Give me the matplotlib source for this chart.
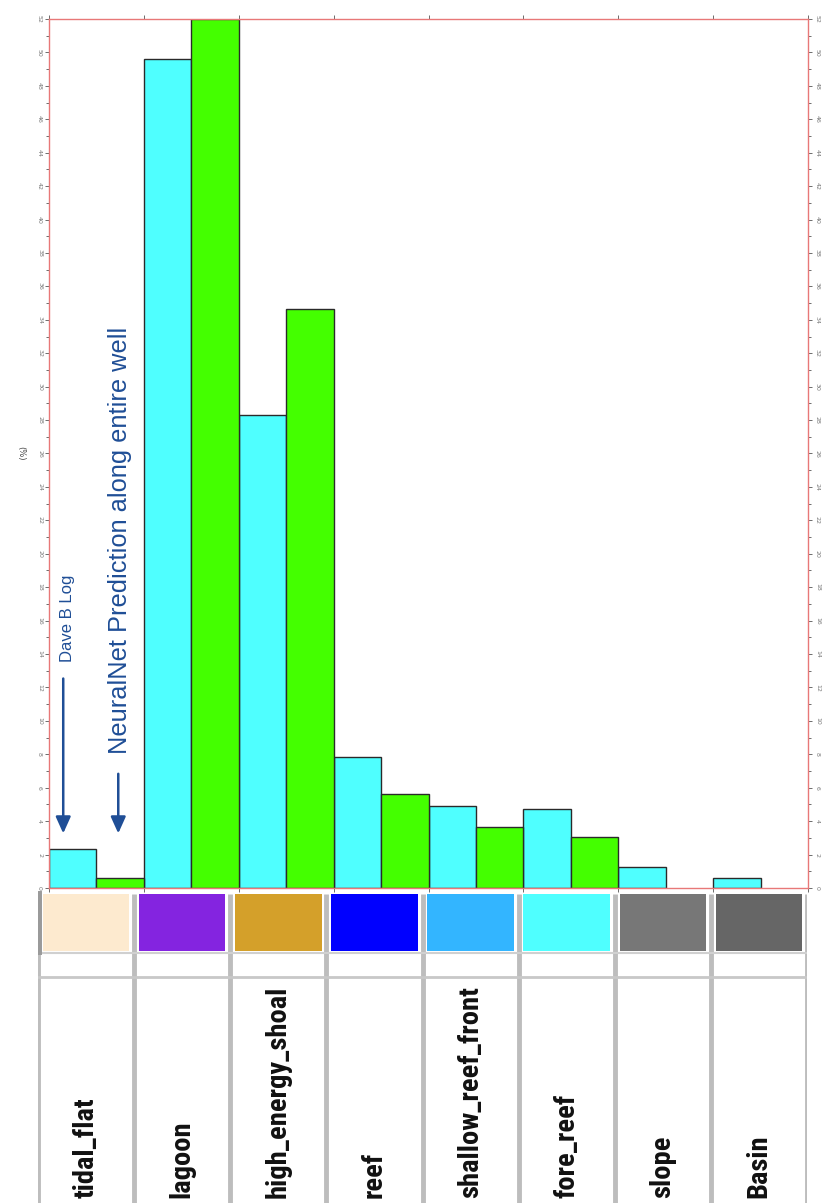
import matplotlib
matplotlib.use("Agg")
import matplotlib.pyplot as plt
from matplotlib.patches import Rectangle
from matplotlib.ticker import MultipleLocator
import numpy as np

categories = ["tidal_flat", "lagoon", "high_energy_shoal", "reef",
              "shallow_reef_front", "fore_reef", "slope", "Basin"]
dave_log = [2.35, 49.6, 28.3, 7.85, 4.9, 4.7, 1.25, 0.6]
neuralnet = [0.6, 52.0, 34.65, 5.65, 3.65, 3.05, 0.0, 0.0]
facies_colors = ["#FDEACF", "#8424E0", "#D4A02A", "#0000FF",
                 "#33B5FF", "#4FFFFF", "#777777", "#666666"]
y_ticks = list(range(0, 54, 2))

W, H = 825, 1203
fig = plt.figure(figsize=(W / 100, H / 100), dpi=100)
fig.patch.set_facecolor("white")

# ---- main bar axes
ax = fig.add_axes([49 / W, 1 - 888 / H, (808 - 49) / W, (888 - 19) / H])
x = np.arange(len(categories))
ax.bar(x - 0.25, dave_log, width=0.5, color="#4FFFFF", edgecolor="#2a2a2a", linewidth=1.0)
nn_x = [xi + 0.25 for xi, v in zip(x, neuralnet) if v > 0]
nn_v = [v for v in neuralnet if v > 0]
ax.bar(nn_x, nn_v, width=0.5, color="#44FF00", edgecolor="#2a2a2a", linewidth=1.0)
ax.set_xlim(-0.5, len(categories) - 0.5)
ax.set_ylim(0, 52)
for s in ax.spines.values():
    s.set_color("#E87878")
    s.set_linewidth(1.0)
ax.set_yticks(y_ticks)
ax.yaxis.set_minor_locator(MultipleLocator(1))
ax.set_yticklabels([str(t) for t in y_ticks], rotation=-90, fontsize=4.5,
                   color="#777777", va="center")
ax.tick_params(axis="y", which="both", direction="out", length=3, width=0.6,
               color="#555555", right=True, labelright=True, pad=2)
ax.tick_params(axis="y", which="minor", length=2)
ax.set_xticks(np.arange(-0.5, len(categories), 1.0))
ax.set_xticklabels([])
ax.tick_params(axis="x", direction="out", length=3, width=0.6, color="#555555",
               top=True, bottom=True, labelbottom=False)
ax.set_ylabel("(%)", rotation=-90, fontsize=6, color="#444444")
ax.yaxis.set_label_coords(-0.043, 0.5)

blue = "#1F4E96"
ax.text(-0.30, 13.5, "Dave B Log", rotation=90, ha="center", va="bottom",
        fontsize=12, color=blue, family="Liberation Sans")
ax.text(0.25, 8.0, "NeuralNet Prediction along entire well", rotation=90,
        ha="center", va="bottom", fontsize=18.3, color=blue, family="Liberation Sans")
ax.annotate("", xy=(-0.35, 3.1), xytext=(-0.35, 12.7),
            arrowprops=dict(arrowstyle="-|>,head_length=1.0,head_width=0.45",
                            color=blue, lw=1.8))
ax.annotate("", xy=(0.23, 3.1), xytext=(0.23, 7.0),
            arrowprops=dict(arrowstyle="-|>,head_length=1.0,head_width=0.45",
                            color=blue, lw=1.8))

# ---- facies table
tx0, tx1, ty0 = 38, 807, 890
tax = fig.add_axes([tx0 / W, 0, (tx1 - tx0) / W, (H - ty0) / H])
tax.set_xlim(0, len(categories))
tax.set_ylim(0, H - ty0)
tax.axis("off")
top = H - ty0
sw_top, sw_bot = top - 4, top - 61
blank_bot = top - 87
for i, (c, lab) in enumerate(zip(facies_colors, categories)):
    tax.add_patch(Rectangle((i + 0.05, sw_bot), 0.9, sw_top - sw_bot,
                            facecolor=c, edgecolor="none"))
    tax.text(i + 0.5, 5, lab, rotation=90, ha="center", va="bottom",
             fontsize=20.5, fontweight="bold", color="#111111",
             family=["DejaVu Sans Condensed", "Roboto Condensed", "DejaVu Sans"],
             fontstretch="condensed")
for i in range(len(categories) + 1):
    tax.plot([i, i], [0, sw_top], color="#BDBDBD", lw=3.5, solid_capstyle="butt")
tax.plot([0, len(categories)], [sw_bot - 2, sw_bot - 2], color="#D0D0D0", lw=1.5)
tax.plot([0, len(categories)], [blank_bot, blank_bot], color="#C8C8C8", lw=2.0)
tax.plot([0.0, 0.0], [sw_bot, sw_top], color="#9A9A9A", lw=5)

fig.savefig("out.png", dpi=100, facecolor="white")
